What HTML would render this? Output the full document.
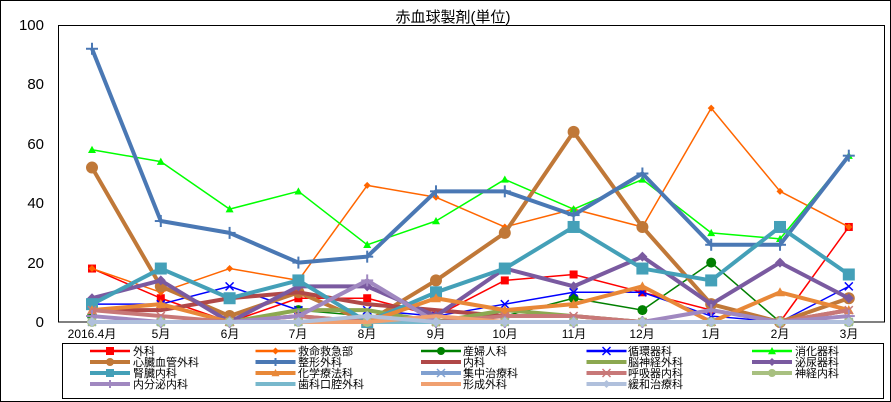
<!DOCTYPE html>
<html><head><meta charset="utf-8">
<style>
body{margin:0;background:#fff}
svg{display:block;font-family:"Liberation Sans","Noto Sans CJK JP",sans-serif}
</style></head><body>
<svg id="s" width="891" height="402" viewBox="0 0 891 402" xmlns="http://www.w3.org/2000/svg">
<rect x="0.5" y="0.5" width="890" height="401" fill="#fff" stroke="#000"/>
<text x="453" y="22" font-size="15" text-anchor="middle">赤血球製剤(単位)</text>
<g font-size="15" text-anchor="end">
<text x="44" y="327">0</text><text x="44" y="268">20</text><text x="44" y="208">40</text>
<text x="44" y="149">60</text><text x="44" y="89">80</text><text x="44" y="30">100</text>
</g>
<rect x="58.5" y="25.5" width="826" height="296.5" fill="none" stroke="#000" stroke-width="1"/>
<g font-size="12" text-anchor="middle">
<text x="92" y="338">2016.4月</text><text x="161" y="338">5月</text><text x="230" y="338">6月</text>
<text x="298" y="338">7月</text><text x="367" y="338">8月</text><text x="436" y="338">9月</text>
<text x="505" y="338">10月</text><text x="574" y="338">11月</text><text x="642" y="338">12月</text>
<text x="711" y="338">1月</text><text x="780" y="338">2月</text><text x="849" y="338">3月</text>
</g>
<g id="series"></g>
<rect x="62.5" y="343.5" width="821" height="55" fill="#fff" stroke="#000"/>
<g id="leg"></g>
<g font-size="11">
<text x="133" y="355">外科</text><text x="298" y="355">救命救急部</text><text x="463" y="355">産婦人科</text><text x="628" y="355">循環器科</text><text x="795" y="355">消化器科</text>
<text x="133" y="366">心臓血管外科</text><text x="298" y="366">整形外科</text><text x="463" y="366">内科</text><text x="628" y="366">脳神経外科</text><text x="795" y="366">泌尿器科</text>
<text x="133" y="377">腎臓内科</text><text x="298" y="377">化学療法科</text><text x="463" y="377">集中治療科</text><text x="628" y="377">呼吸器内科</text><text x="795" y="377">神経内科</text>
<text x="133" y="388">内分泌内科</text><text x="298" y="388">歯科口腔外科</text><text x="463" y="388">形成外科</text><text x="628" y="388">緩和治療科</text>
</g>
</svg>
<script>
const S=[
["#ff0000",1.5,"sq",[18,8,0,8,8,2,14,16,10,4,0,32],8],
["#ff6600",1.5,"di",[18,10,18,14,46,42,32,38,32,72,44,32],7],
["#008000",1.5,"ci",[2,0,0,4,2,0,2,8,4,20,0,0],10],
["#0000ff",1.5,"x",[6,6,12,4,4,2,6,10,10,2,0,12],8],
["#00ff00",1.5,"tr",[58,54,38,44,26,34,48,38,48,30,28,56],8],
["#c07838",4,"ci",[52,12,2,10,0,14,30,64,32,6,0,8],12],
["#4a78b4",4,"pl",[92,34,30,20,22,44,44,36,50,26,26,56],12],
["#b04848",4,"no",[4,4,8,10,6,4,2,2,0,0,0,4],0],
["#8ca850",4,"no",[0,0,0,4,4,0,4,2,0,0,0,0],0],
["#7a5aa0",4,"di",[8,14,0,12,12,2,18,12,22,6,20,8],10],
["#44a0b8",4,"sq",[6,18,8,14,0,10,18,32,18,14,32,16],12],
["#e88838",4,"tr",[4,6,0,2,0,8,4,6,12,0,10,4],10],
["#80a0d0",4,"x",[0,0,0,0,0,0,0,0,0,0,0,0],8],
["#c87878",4,"x",[4,2,0,2,0,0,2,2,0,0,0,4],8],
["#a8c080",4,"ci",[0,0,0,0,0,0,0,0,0,0,0,0],10],
["#a088c0",4,"pl",[2,0,0,2,14,0,0,0,0,4,0,2],12],
["#78b8cc",4,"no",[0,0,0,0,0,0,0,0,0,0,0,0],0],
["#f0a070",4,"no",[0,0,0,0,0,2,0,0,0,0,0,0],0],
["#b0c0dc",4,"di",[0,0,0,0,2,0,0,0,0,0,0,0],10]];
const ns="http://www.w3.org/2000/svg";
function el(p,t,a){const e=document.createElementNS(ns,t);for(const k in a)e.setAttribute(k,a[k]);p.appendChild(e);return e}
function mk(g,t,x,y,s,c){const h=s/2;
if(t=="sq")el(g,"rect",{x:x-h,y:y-h,width:s,height:s,fill:c});
else if(t=="di")el(g,"polygon",{points:`${x},${y-h} ${x+h},${y} ${x},${y+h} ${x-h},${y}`,fill:c});
else if(t=="ci")el(g,"circle",{cx:x,cy:y,r:h,fill:c});
else if(t=="tr")el(g,"polygon",{points:`${x},${y-h} ${x+h},${y+h*0.8} ${x-h},${y+h*0.8}`,fill:c});
else if(t=="x"){el(g,"line",{x1:x-h,y1:y-h,x2:x+h,y2:y+h,stroke:c,"stroke-width":1.5});el(g,"line",{x1:x-h,y1:y+h,x2:x+h,y2:y-h,stroke:c,"stroke-width":1.5});}
else if(t=="pl"){el(g,"line",{x1:x-h,y1:y,x2:x+h,y2:y,stroke:c,"stroke-width":2});el(g,"line",{x1:x,y1:y-h,x2:x,y2:y+h,stroke:c,"stroke-width":2});}}
const g=document.getElementById("series"),L=document.getElementById("leg");
S.forEach((s,i)=>{const pts=s[3].map((v,j)=>[92+j*68.8,322-v*2.97]);
el(g,"polyline",{points:pts.map(p=>p.join(",")).join(" "),fill:"none",stroke:s[0],"stroke-width":s[1],"stroke-linejoin":"round"});
pts.forEach(p=>mk(g,s[2],p[0],p[1],s[4],s[0]));
const r=Math.floor(i/5),c=i%5,lx=90+c*165.5,ly=351+r*11;
el(L,"line",{x1:lx,y1:ly,x2:lx+40,y2:ly,stroke:s[0],"stroke-width":s[1]==4?4:2.5});
mk(L,s[2],lx+20,ly,Math.min(s[4],8),s[0]);});
</script>
</body></html>
